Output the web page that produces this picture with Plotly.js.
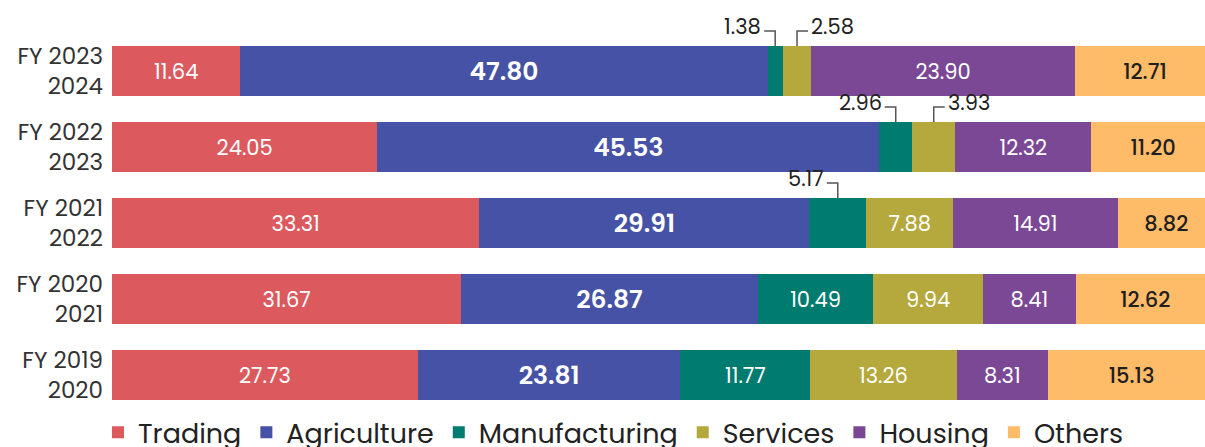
<!DOCTYPE html>
<html>
<head>
<meta charset="utf-8">
<script src="https://cdn.plot.ly/plotly-3.0.1.min.js"></script>
<style>html,body{margin:0;padding:0;background:#fff;}#chart{width:1205px;height:447px;}</style>
</head>
<body>
<div id="chart"></div>
<script>
// ---- data ----
const categories = ['FY 2019<br>2020', 'FY 2020<br>2021', 'FY 2021<br>2022', 'FY 2022<br>2023', 'FY 2023<br>2024'];
const seriesNames = ['Trading', 'Agriculture', 'Manufacturing', 'Services', 'Housing', 'Others'];
const trading       = [27.73, 31.67, 33.31, 24.05, 11.64];
const agriculture   = [23.81, 26.87, 29.91, 45.53, 47.80];
const manufacturing = [11.77, 10.49, 5.17, 2.96, 1.38];
const services      = [13.26, 9.94, 7.88, 3.93, 2.58];
const housing       = [8.31, 8.41, 14.91, 12.32, 23.90];
const others        = [15.13, 12.62, 8.82, 11.20, 12.71];

// ---- styles ----
const FONT = "Poppins, 'Open Sans', sans-serif";
const colors = ['#DC595E', '#4652A5', '#007B6F', '#B5A83C', '#7B4896', '#FEBB68'];
const textStyles = [
  {color: '#ffffff', size: 21, weight: 400},
  {color: '#ffffff', size: 25, weight: 600},
  {color: '#ffffff', size: 21, weight: 400},
  {color: '#ffffff', size: 21, weight: 400},
  {color: '#ffffff', size: 21, weight: 400},
  {color: '#1f1f1f', size: 21, weight: 500}
];
const SMALL = 6;            // segments below this get an outside label
const sideOf = {2: -1, 3: 1}; // Manufacturing labels to the left, Services to the right

const allSeries = [trading, agriculture, manufacturing, services, housing, others];

const traces = allSeries.map((vals, s) => ({
  type: 'bar',
  orientation: 'h',
  name: seriesNames[s],
  y: categories,
  x: vals,
  marker: {color: colors[s], line: {width: 0}},
  text: vals.map(v => v < SMALL ? '' : v.toFixed(2)),
  textposition: 'inside',
  insidetextanchor: 'middle',
  constraintext: 'none',
  textangle: 0,
  insidetextfont: {family: FONT, color: textStyles[s].color, size: textStyles[s].size, weight: textStyles[s].weight},
  hoverinfo: 'skip'
}));

// outside labels with elbow leader lines
const shapes = [];
const annotations = [];
const nCat = categories.length;
categories.forEach((cat, i) => {
  let cum = 0;
  allSeries.forEach((vals, s) => {
    const v = vals[i];
    if (v < SMALL && sideOf[s] !== undefined) {
      const c = cum + v / 2;
      const d = sideOf[s];
      shapes.push({
        type: 'path', xref: 'x', yref: 'paper',
        xsizemode: 'pixel', ysizemode: 'pixel',
        xanchor: c, yanchor: (i + 0.5) / nCat,
        path: 'M0,25 V40 H' + (d * 11),
        line: {color: '#555555', width: 1.5}
      });
      annotations.push({
        x: c, y: i, xref: 'x', yref: 'y',
        text: v.toFixed(2), showarrow: false,
        xanchor: d < 0 ? 'right' : 'left', yanchor: 'middle',
        xshift: d * 12, yshift: 45,
        font: {family: FONT, size: 21, color: '#222222'}
      });
    }
    cum += v;
  });
});

const layout = {
  width: 1205, height: 447,
  margin: {l: 112, r: 0, t: 33, b: 34, autoexpand: false},
  paper_bgcolor: '#ffffff', plot_bgcolor: '#ffffff',
  barmode: 'stack',
  bargap: 0.342,
  showlegend: true,
  hovermode: false,
  xaxis: {range: [0, 99.1], visible: false, fixedrange: true},
  yaxis: {
    type: 'category', range: [-0.5, nCat - 0.5],
    showgrid: false, zeroline: false, showline: false, ticks: '',
    ticklabelstandoff: 8, automargin: false,
    tickfont: {family: FONT, size: 23, color: '#333333'},
    fixedrange: true
  },
  legend: {
    orientation: 'h', x: -0.0128, xanchor: 'left', y: -0.052, yanchor: 'middle',
    font: {family: FONT, size: 27, color: '#222222'},
    traceorder: 'normal', bgcolor: 'rgba(0,0,0,0)'
  },
  shapes: shapes,
  annotations: annotations,
  font: {family: FONT}
};

Plotly.newPlot('chart', traces, layout, {displayModeBar: false, staticPlot: true});
</script>
</body>
</html>
